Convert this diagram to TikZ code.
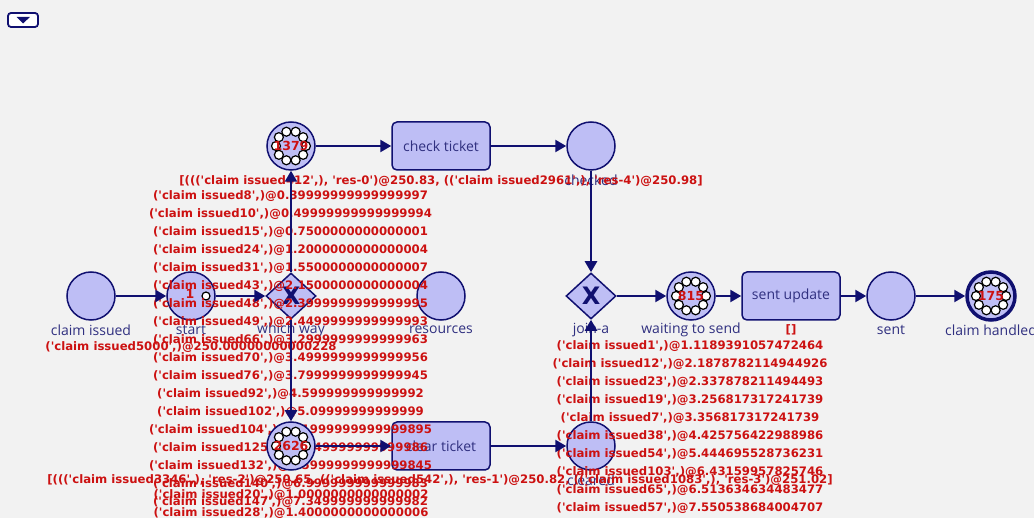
\documentclass[tikz,border=0pt]{standalone}
\usepackage{fontspec}
\setmainfont{DejaVu Sans}
\newfontfamily\tokfont{DejaVu Sans}[Ligatures=TeXOff]
\newfontfamily\lblfont{Open Sans}
\usetikzlibrary{shapes.geometric,arrows.meta}

\definecolor{cpnbg}{HTML}{F2F2F2}
\definecolor{cpnfill}{HTML}{BEBEF5}
\definecolor{cpnline}{HTML}{101070}
\definecolor{cpntext}{HTML}{303080}
\definecolor{cpnred}{HTML}{CC1111}

\tikzset{
  place/.style={circle, draw=cpnline, fill=cpnfill, line width=1.5pt,
    minimum size=48pt, inner sep=0pt},
  trans/.style={rectangle, rounded corners=5pt, draw=cpnline, fill=cpnfill,
    line width=1.5pt, minimum width=98pt, minimum height=48pt,
    font=\lblfont\fontsize{14}{16}\selectfont, text=cpntext},
  xortrans/.style={diamond, draw=cpnline, fill=cpnfill, line width=1.5pt,
    minimum width=50pt, minimum height=46pt, inner sep=0pt,
    font=\tokfont\bfseries\fontsize{24}{24}\selectfont, text=cpnline},
  lbl/.style={font=\lblfont\fontsize{14}{16}\selectfont, text=cpntext, inner sep=0pt},
  tokentext/.style={font=\tokfont\bfseries\fontsize{11.7}{13}\selectfont,
    text=cpnred, inner sep=0pt},
  tokencount/.style={font=\tokfont\bfseries\fontsize{12.5}{13}\selectfont, text=cpnred, inner sep=0pt},
  tokendot/.style={draw=black, fill=white, line width=1.2pt},
  arc/.style={draw=cpnline, line width=2.5pt, -{Triangle[length=11pt,width=12pt]}},
  menubtn/.style={rectangle, rounded corners=3pt, draw=cpnline, fill=white,
    line width=1.8pt, minimum width=30pt, minimum height=14pt, inner sep=0pt}
}

\newcommand{\tokenring}[1]{%
  \foreach \a in {0,36,...,324}
    \draw[tokendot] (#1) ++(\a:15) circle (4.5pt);
}

\begin{document}
\begin{tikzpicture}[x=1pt,y=-1pt]
  \fill[cpnbg] (0,0) rectangle (1034,518);
  \useasboundingbox (0,0) rectangle (1034,518);

  \node[menubtn] (menu) at (23,20) {};
  \fill[cpnline] (16.5,16.8) -- (30,16.8) -- (23.2,23.5) -- cycle;

  % places
  \node[place] (claimissued) at (91,296) {};
  \node[place] (start) at (191,296) {};
  \node[place] (resources) at (441,296) {};
  \node[place] (p1379) at (291,146) {};
  \node[place] (checked) at (591,146) {};
  \node[place] (waiting) at (691,296) {};
  \node[place] (sent) at (891,296) {};
  \node[place, line width=3.5pt] (handled) at (991,296) {};
  \node[place] (cleared) at (591,446) {};

  % transitions
  \node[xortrans] (whichway) at (291,296) {X};
  \node[xortrans] (joina) at (591,296) {X};
  \node[trans] (check) at (441,146) {check ticket};
  \node[trans] (sendupd) at (791,296) {sent update};
  \node[trans] (clear) at (441,446) {clear ticket};

  % names
  \node[lbl] (lclaimissued) at (91,330) {claim issued};
  \node[lbl] (lstart) at (191,330) {start};
  \node[lbl] (lwhichway) at (291,330) {which way};
  \node[lbl] (lresources) at (441,330) {resources};
  \node[lbl] (ljoina) at (591,330) {join-a};
  \node[lbl] (lwaiting) at (691,330) {waiting to send};
  \node[lbl] (lsent) at (891,330) {sent};
  \node[lbl] (lhandled) at (991,330) {claim handled};
  \node[lbl] (lchecked) at (591,180) {checked};
  \node[lbl] (lcleared) at (591,480) {cleared};

  % tokens
  \draw[tokendot] (start) ++(15,0) circle (4pt);
  \node[tokencount] (nstart) at (190,294) {1};
  \tokenring{p1379}
  \node[tokencount] (n1379) at (p1379) {1379};
  \tokenring{waiting}
  \node[tokencount] (nwaiting) at (waiting) {815};
  \tokenring{handled}
  \node[tokencount] (nhandled) at (handled) {175};

  % markings
  \node[tokentext] (mcheck) at (441,181)
    {[((('claim issued412',), 'res-0')@250.83, (('claim issued2961',), 'res-4')@250.98]};
  \foreach [count=\k from 0] \t in {
    {('claim issued8',)@0.39999999999999997},
    {('claim issued10',)@0.49999999999999994},
    {('claim issued15',)@0.7500000000000001},
    {('claim issued24',)@1.2000000000000004},
    {('claim issued31',)@1.5500000000000007},
    {('claim issued43',)@2.1500000000000004},
    {('claim issued48',)@2.3999999999999995},
    {('claim issued49',)@2.4499999999999993},
    {('claim issued66',)@3.2999999999999963},
    {('claim issued70',)@3.4999999999999956},
    {('claim issued76',)@3.7999999999999945},
    {('claim issued92',)@4.599999999999992},
    {('claim issued102',)@5.09999999999999},
    {('claim issued104',)@5.1999999999999895},
    {('claim issued125',)@6.249999999999986},
    {('claim issued132',)@6.5999999999999845},
    {('claim issued140',)@6.999999999999983},
    {('claim issued147',)@7.349999999999982}}
    \node[tokentext] (mwhich\k) at (290.5,{196+18*\k}) {\t};
  \node[tokentext] (mstart) at (191,347) {('claim issued5000',)@250.00000000000228};
  \node[tokentext] (mres) at (440,480)
    {[((('claim issued3346',), 'res-2')@250.65, (('claim issued542',), 'res-1')@250.82, (('claim issued1083',), 'res-3')@251.02]};
  \node[tokentext] (mclear0) at (291,495) {('claim issued20',)@1.0000000000000002};
  \node[tokentext] (mclear1) at (291,513) {('claim issued28',)@1.4000000000000006};
  \foreach [count=\k from 0] \t in {
    {('claim issued1',)@1.1189391057472464},
    {('claim issued12',)@2.1878782114944926},
    {('claim issued23',)@2.337878211494493},
    {('claim issued19',)@3.256817317241739},
    {('claim issued7',)@3.356817317241739},
    {('claim issued38',)@4.425756422988986},
    {('claim issued54',)@5.444695528736231},
    {('claim issued103',)@6.43159957825746},
    {('claim issued65',)@6.513634634483477},
    {('claim issued57',)@7.550538684004707}}
    \node[tokentext] (mwait\k) at (690,{346+18*\k}) {\t};
  \node[tokentext] (msend) at (791,330) {[]};

  \node[place] (p2626) at (291,446) {};
  \tokenring{p2626}
  \node[tokencount] (n2626) at (p2626) {2626};

  % arcs
  \draw[arc] (claimissued) -- (start);
  \draw[arc] (start) -- (whichway);
  \draw[arc] (whichway) -- (p1379);
  \draw[arc] (whichway) -- (p2626);
  \draw[arc] (p1379) -- (check);
  \draw[arc] (check) -- (checked);
  \draw[arc] (checked) -- (joina);
  \draw[arc] (p2626) -- (clear);
  \draw[arc] (clear) -- (cleared);
  \draw[arc] (cleared) -- (joina);
  \draw[arc] (joina) -- (waiting);
  \draw[arc] (waiting) -- (sendupd);
  \draw[arc] (sendupd) -- (sent);
  \draw[arc] (sent) -- (handled);
\end{tikzpicture}
\end{document}
